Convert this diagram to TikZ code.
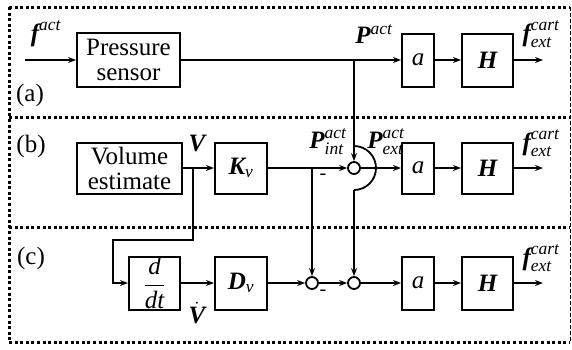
\documentclass[tikz,border=0pt]{standalone}
\usepackage{fontspec}
\usepackage{amsmath}
\setmainfont{Liberation Serif}
\usetikzlibrary{arrows.meta}
\newcommand{\vb}[1]{\text{\bfseries\itshape #1}}
\newcommand{\ti}[1]{\text{\itshape #1}}
\begin{document}
\begin{tikzpicture}[x=1pt,y=-1pt,
  font=\fontsize{25}{25}\selectfont,
  blk/.style={draw,line width=2pt,inner sep=0pt,align=center},
  sumnode/.style={draw,circle,line width=1.8pt,minimum size=12pt,inner sep=0pt},
  conn/.style={line width=1.8pt,-{Stealth[length=8pt,width=6pt]}},
  wire/.style={line width=1.8pt},
  framedot/.style={line width=3pt,dash pattern=on 3pt off 2.6pt},
  framedash/.style={line width=1pt,dash pattern=on 4pt off 2pt},
  lbl/.style={inner sep=0pt}
]
\useasboundingbox (0,0) rectangle (572,349);

% frame
\draw[framedot] (9,7) -- (570,7);
\draw[framedot] (9,117) -- (570,117);
\draw[framedot] (9,227) -- (570,227);
\draw[framedot] (9,342) -- (570,342);
\draw[framedot] (9,7) -- (9,342);
\draw[framedash] (570,7) -- (570,342);

% row a
\node[blk,minimum width=103pt,minimum height=54pt] (pres) at (128.5,60) {Pressure\\sensor};
\node[blk,minimum width=32pt,minimum height=53pt] (a1) at (418,60) {\itshape a};
\node[blk,minimum width=51pt,minimum height=53pt] (H1) at (487.5,60) {\bfseries\itshape H};
\coordinate (fin) at (25,60);
\coordinate (out1) at (543,60);
\coordinate (pbr) at (354,60);

% row b
\node[blk,minimum width=105pt,minimum height=51pt] (vol) at (129.5,168) {Volume\\estimate};
\node[blk,minimum width=52pt,minimum height=51pt] (Kv) at (241,168) {$\vb{K}_{\ti{v}}$};
\node[sumnode] (s1) at (354,168) {};
\node[blk,minimum width=32pt,minimum height=51pt] (a2) at (418,168) {\itshape a};
\node[blk,minimum width=51pt,minimum height=51pt] (H2) at (487.5,168) {\bfseries\itshape H};
\coordinate (out2) at (543,168);
\coordinate (vbr) at (193,168);
\coordinate (kbr) at (312,168);
\coordinate (arcTop) at (354,146);
\coordinate (arcBot) at (354,190);

% row c
\node[blk,minimum width=51pt,minimum height=53pt] (ddt) at (154.5,283) {$\dfrac{\ti{d}}{\ti{dt}}$};
\node[blk,minimum width=52pt,minimum height=53pt] (Dv) at (241,283) {$\vb{D}_{\ti{v}}$};
\node[sumnode] (s2) at (312,283) {};
\node[sumnode] (s3) at (354,283) {};
\node[blk,minimum width=32pt,minimum height=53pt] (a3) at (418,283) {\itshape a};
\node[blk,minimum width=51pt,minimum height=53pt] (H3) at (487.5,283) {\bfseries\itshape H};
\coordinate (out3) at (543,283);

% connectors row a
\draw[conn] (fin) -- (pres);
\draw[conn] (pres) -- (a1);
\draw[conn] (a1) -- (H1);
\draw[conn] (H1) -- (out1);
\draw[conn] (pbr) -- (s1);

% connectors row b
\draw[conn] (vol) -- (Kv);
\draw[conn] (Kv) -- (s1);
\draw[conn] (s1) -- (a2);
\draw[conn] (a2) -- (H2);
\draw[conn] (H2) -- (out2);
\draw[conn] (kbr) -- (s2);
\draw[wire] (arcTop) .. controls (366.15,146) and (376,155.85) .. (376,168)
  .. controls (376,180.15) and (366.15,190) .. (arcBot);
\draw[conn] (arcBot) -- (s3);
\draw[conn] (vbr) -- ++(0,72) -| ([xshift=-15pt]ddt.west) -- (ddt.west);

% connectors row c
\draw[conn] (ddt) -- (Dv);
\draw[conn] (Dv) -- (s2);
\draw[conn] (s2) -- (s3);
\draw[conn] (s3) -- (a3);
\draw[conn] (a3) -- (H3);
\draw[conn] (H3) -- (out3);

% labels
\node[lbl] (la) at (30,95) {(a)};
\node[lbl] (lb) at (31,146) {(b)};
\node[lbl] (lc) at (31,258) {(c)};
\node[lbl] (lfact) at (46,34) {$\vb{f}^{\ti{act}}$};
\node[lbl] (lpact) at (374,34) {$\vb{P}^{\ti{act}}$};
\node[lbl] (lf1) at (541,34) {$\vb{f}^{\ti{cart}}_{\ti{ext}}$};
\node[lbl] (lf2) at (541,143) {$\vb{f}^{\ti{cart}}_{\ti{ext}}$};
\node[lbl] (lf3) at (541,258) {$\vb{f}^{\ti{cart}}_{\ti{ext}}$};
\node[lbl] (lV) at (197,143) {$\vb{V}$};
\node[lbl] (lpint) at (328,142) {$\vb{P}^{\ti{act}}_{\ti{int}}$};
\node[lbl] (lpext) at (386,142) {$\vb{P}^{\ti{act}}_{\ti{ext}}$};
\node[lbl] (lVd) at (197,313) {$\dot{\vb{V}}$};
\node[lbl] (m1) at (323,177) {\fontsize{20}{20}\selectfont -};
\node[lbl] (m2) at (323,293) {\fontsize{20}{20}\selectfont -};
\end{tikzpicture}
\end{document}
